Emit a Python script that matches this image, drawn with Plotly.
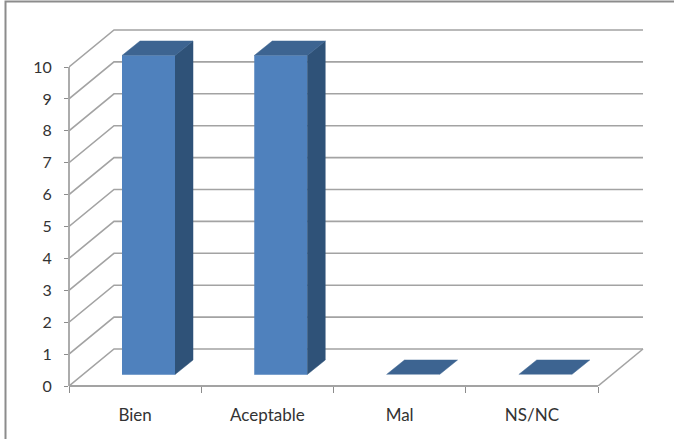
import plotly.graph_objects as go

categories = ["Bien", "Aceptable", "Mal", "NS/NC"]
values = [10, 10, 0, 0]
y_ticks = list(range(0, 11))

W, H = 674, 439
L, R, T, B = 69, 598, 67, 386          # front plane of the 3D box, in pixels
PLOT_R, PLOT_T = 660, 20               # plot area reaches past the box so the depth is not clipped
PX_X = (R - L) / 4
PX_Y = (B - T) / 10
DX, DY = 45 / PX_X, 37 / PX_Y          # wall depth in axis units
BAR_L, BAR_W = 53 / PX_X - 0.5, 53 / PX_X  # bar left inset / width
BAR_BASE = 11.5 / PX_Y                 # bar floor offset
BDX, BDY = 18 / PX_X, 14.5 / PX_Y      # bar depth

GRID = "#a3a3a3"
FRONT, TOP, SIDE = "#4f81bd", "#3d6491", "#2f5278"

fig = go.Figure()

def line(xs, ys, color=GRID, width=1.6):
    fig.add_trace(go.Scatter(x=xs, y=ys, mode="lines",
                             line=dict(color=color, width=width), hoverinfo="skip", showlegend=False))

def poly(xs, ys, color):
    fig.add_trace(go.Scatter(x=xs, y=ys, mode="lines", fill="toself", fillcolor=color,
                             line=dict(color=color, width=0.5),
                             hoverinfo="skip", showlegend=False))

x0, x1 = -0.5, 3.5
for v in y_ticks:
    line([x0, x0 + DX, x1 + DX], [v, v + DY, v + DY])
line([x1, x1 + DX], [0, DY])

for i, v in enumerate(values):
    a, b = i + BAR_L, i + BAR_L + BAR_W
    y0, y1 = BAR_BASE, BAR_BASE + v
    if v > 0:
        poly([a, b, b, a], [y0, y0, y1, y1], FRONT)
        poly([b, b + BDX, b + BDX, b], [y0, y0 + BDY, y1 + BDY, y1], SIDE)
    poly([a, a + BDX, b + BDX, b], [y1, y1 + BDY, y1 + BDY, y1], TOP)

x_font = dict(family="Lato, Carlito, sans-serif", size=17, color="#333333")
y_font = dict(family="Lato, Carlito, sans-serif", size=16, color="#333333")

fig.update_layout(
    width=W, height=H,
    autosize=False,
    margin=dict(l=L, r=W - PLOT_R, t=PLOT_T, b=H - B, pad=0),
    paper_bgcolor="white", plot_bgcolor="rgba(0,0,0,0)",
    showlegend=False,
    xaxis=dict(range=[x0, x1 + (PLOT_R - R) / PX_X], tickmode="array", tickvals=list(range(4)),
               ticktext=categories, ticks="", showgrid=False, zeroline=False, showline=False,
               tickfont=x_font, ticklabelstandoff=17, fixedrange=True,
               minor=dict(tickmode="array", tickvals=[x0 + i for i in range(5)], ticks="outside",
                          ticklen=6, tickwidth=1.4, tickcolor="#8c8c8c", showgrid=False)),
    yaxis=dict(range=[0, (B - PLOT_T) / PX_Y], tickmode="array", tickvals=y_ticks, ticks="outside",
               ticklen=4, tickwidth=1.4, tickcolor="#8c8c8c", showgrid=False, zeroline=False,
               showline=False, tickfont=y_font, ticklabelstandoff=9, fixedrange=True),
    shapes=[
        dict(type="line", xref="x", yref="paper", x0=x0, x1=x1, y0=0, y1=0,
             line=dict(color=GRID, width=1.8)),
        dict(type="line", xref="x domain", yref="y", x0=0, x1=0, y0=0, y1=10,
             line=dict(color=GRID, width=1.8)),
        dict(type="path", xref="paper", yref="paper", layer="below",
             path="M {a},{b} L {a},{c} L {d},{c}".format(
                 a=(5.5 - L) / (PLOT_R - L), b=(B - 445) / (B - PLOT_T),
                 c=(B - 1.5) / (B - PLOT_T), d=(680 - L) / (PLOT_R - L)),
             line=dict(color="#8c8c8c", width=2)),
    ],
)

fig.write_html("out.html", config=dict(displayModeBar=False),
               post_script="document.body.style.margin='0';document.body.style.overflow='hidden';")
